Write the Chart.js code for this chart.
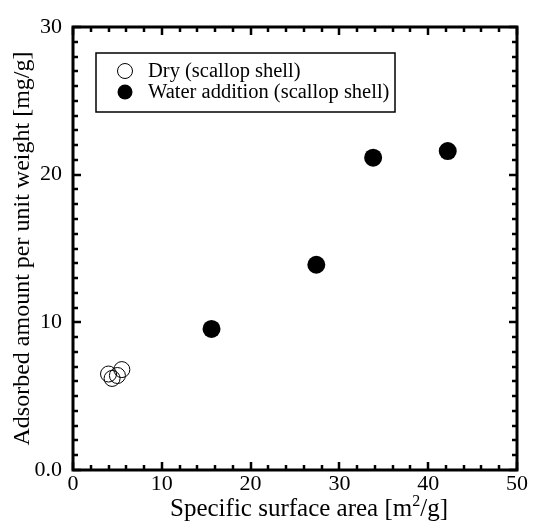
<!DOCTYPE html>
<html>
<head>
<meta charset="utf-8">
<script src="https://cdn.jsdelivr.net/npm/chart.js@4"></script>
<style>
  html, body { margin: 0; padding: 0; background: #fff; }
  #wrap { width: 534px; height: 525px; }
</style>
</head>
<body>
<div id="wrap"><canvas id="myChart" width="534" height="525"></canvas></div>
<script>
// data
const dryX = [4.0, 4.4, 5.0, 5.5];
const dryY = [6.5, 6.2, 6.4, 6.8];
const wetX = [15.6, 27.4, 33.8, 42.2];
const wetY = [9.55, 13.9, 21.15, 21.6];
const seriesNames = ['Dry (scallop shell)', 'Water addition (scallop shell)'];
const xLabels = { 0: '0', 10: '10', 20: '20', 30: '30', 40: '40', 50: '50' };
const yLabels = { 0: '0.0', 10: '10', 20: '20', 30: '30' };
const xTitle = ['Specific surface area [m', '2', '/g]'];

const FONT = "'Liberation Serif', 'Times New Roman', serif";

function toPoints(xs, ys) {
  return xs.map((x, i) => ({ x: x, y: ys[i] }));
}

// frame, inward ticks, x title with superscript, boxed legend
const framePlugin = {
  id: 'frame',
  afterDraw(chart) {
    const c = chart.ctx;
    const a = chart.chartArea;
    const xs = chart.scales.x, ys = chart.scales.y;
    c.save();
    c.strokeStyle = '#000';
    c.lineWidth = 2.5;
    xs.ticks.forEach(t => {
      const px = Math.round(xs.getPixelForValue(t.value));
      const len = t.value % 10 === 0 ? 8 : 5;
      c.beginPath();
      c.moveTo(px, a.bottom); c.lineTo(px, a.bottom - len);
      c.moveTo(px, a.top); c.lineTo(px, a.top + len);
      c.stroke();
    });
    ys.ticks.forEach(t => {
      const py = Math.round(ys.getPixelForValue(t.value));
      const len = t.value % 10 === 0 ? 8 : 5;
      c.beginPath();
      c.moveTo(a.left, py); c.lineTo(a.left + len, py);
      c.moveTo(a.right, py); c.lineTo(a.right - len, py);
      c.stroke();
    });
    c.lineWidth = 3;
    c.strokeRect(a.left, a.top, a.right - a.left, a.bottom - a.top);

    // x title
    c.fillStyle = '#000';
    c.textBaseline = 'alphabetic';
    c.textAlign = 'left';
    const big = '25px ' + FONT, small = '16px ' + FONT;
    c.font = big; const w0 = c.measureText(xTitle[0]).width, w2 = c.measureText(xTitle[2]).width;
    c.font = small; const w1 = c.measureText(xTitle[1]).width;
    let tx = (a.left + a.right) / 2 + 14 - (w0 + w1 + w2) / 2;
    const ty = 516;
    c.font = big; c.fillText(xTitle[0], tx, ty); tx += w0;
    c.font = small; c.fillText(xTitle[1], tx, ty - 10); tx += w1;
    c.font = big; c.fillText(xTitle[2], tx, ty);

    // legend box
    c.lineWidth = 1.5;
    c.strokeRect(96, 53, 299, 59);
    c.font = '20.5px ' + FONT;
    c.textBaseline = 'middle';
    chart.data.datasets.forEach((ds, i) => {
      const ly = 71 + i * 21;
      c.beginPath();
      c.arc(125, ly, 7.5, 0, Math.PI * 2);
      if (ds.pointBackgroundColor === '#000') {
        c.fill();
      } else {
        c.lineWidth = 1;
        c.stroke();
      }
      c.fillText(ds.label, 148, ly + 1);
    });
    c.restore();
  }
};

const ctx = document.getElementById('myChart').getContext('2d');
new Chart(ctx, {
  type: 'scatter',
  data: {
    datasets: [{
      label: seriesNames[0],
      data: toPoints(dryX, dryY),
      pointRadius: 8,
      pointBorderWidth: 1,
      pointBorderColor: '#000',
      pointBackgroundColor: 'rgba(0,0,0,0)'
    }, {
      label: seriesNames[1],
      data: toPoints(wetX, wetY),
      pointRadius: 9,
      pointBorderWidth: 0,
      pointBorderColor: '#000',
      pointBackgroundColor: '#000'
    }]
  },
  options: {
    responsive: false,
    animation: false,
    events: [],
    layout: { padding: { top: 27, right: 17, left: 0, bottom: 0 } },
    plugins: { legend: { display: false }, tooltip: { enabled: false } },
    scales: {
      x: {
        type: 'linear', min: 0, max: 50,
        border: { display: false },
        grid: { display: false, drawTicks: false },
        ticks: {
          stepSize: 2, autoSkip: false, maxRotation: 0, padding: 1,
          color: '#000', font: { family: FONT, size: 22 },
          callback: v => xLabels[v] !== undefined ? xLabels[v] : ''
        },
        afterFit: s => { s.height = 55; }
      },
      y: {
        type: 'linear', min: 0, max: 30,
        border: { display: false },
        grid: { display: false, drawTicks: false },
        ticks: {
          stepSize: 1, autoSkip: false, padding: 11,
          color: '#000', font: { family: FONT, size: 22 },
          callback: v => yLabels[v] !== undefined ? yLabels[v] : ''
        },
        title: {
          display: true, text: 'Adsorbed amount per unit weight [mg/g]',
          color: '#000', font: { family: FONT, size: 24 }, padding: { top: 8, bottom: 0 }
        },
        afterFit: s => { s.width = 73; }
      }
    }
  },
  plugins: [framePlugin]
});
</script>
</body>
</html>
